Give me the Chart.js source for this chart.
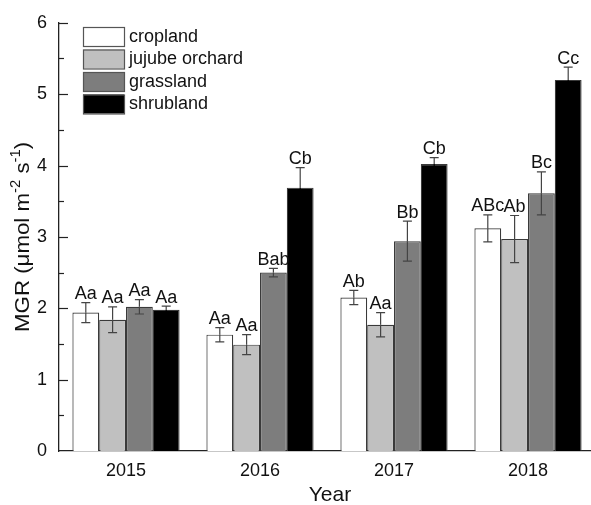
<!DOCTYPE html>
<html>
<head>
<meta charset="utf-8">
<script src="https://cdn.jsdelivr.net/npm/chart.js@4"></script>
<style>
  html, body { margin: 0; padding: 0; background: #fff; overflow: hidden; }
  #chart { display: block; }
</style>
</head>
<body>
<canvas id="chart" width="600" height="505"></canvas>
<script>
// MGR by land use type, 2015-2018 (mean, SE, significance letters)
const years = ['2015', '2016', '2017', '2018'];
const yTicks = [0, 1, 2, 3, 4, 5, 6];

const cropland    = [1.94, 1.63, 2.15, 3.12];
const croplandSE  = [0.14, 0.10, 0.10, 0.19];
const croplandSig = ['Aa', 'Aa', 'Ab', 'ABc'];

const jujube    = [1.84, 1.49, 1.77, 2.97];
const jujubeSE  = [0.18, 0.14, 0.17, 0.33];
const jujubeSig = ['Aa', 'Aa', 'Aa', 'Ab'];

const grassland    = [2.02, 2.50, 2.94, 3.61];
const grasslandSE  = [0.10, 0.06, 0.28, 0.30];
const grasslandSig = ['Aa', 'Bab', 'Bb', 'Bc'];

const shrubland    = [1.98, 3.69, 4.02, 5.20];
const shrublandSE  = [0.05, 0.28, 0.09, 0.18];
const shrublandSig = ['Aa', 'Cb', 'Cb', 'Cc'];

const FONT = 'Arial, "Liberation Sans", sans-serif';

function series(label, data, se, sig, fill) {
  return { label, data, se, sig, backgroundColor: fill, borderColor: '#3a3a3a', borderWidth: 1.2,
           categoryPercentage: 0.8, barPercentage: 1.0 };
}

// error bars, letters, inward ticks, axis titles and legend
const decorations = {
  id: 'decorations',
  afterDatasetsDraw(chart) {
    const ctx = chart.ctx;
    const y = chart.scales.y;
    ctx.save();
    chart.data.datasets.forEach((ds, di) => {
      chart.getDatasetMeta(di).data.forEach((bar, i) => {
        const top = y.getPixelForValue(ds.data[i] + ds.se[i]);
        const low = y.getPixelForValue(ds.data[i] - ds.se[i]);
        const mid = bar.y;
        ctx.lineWidth = 1.2;
        ctx.strokeStyle = '#444';
        ctx.beginPath();
        ctx.moveTo(bar.x, top); ctx.lineTo(bar.x, mid);
        ctx.moveTo(bar.x - 4.5, top); ctx.lineTo(bar.x + 4.5, top);
        ctx.stroke();
        // lower whisker sits inside the bar; on the black bars it disappears
        ctx.strokeStyle = ds.backgroundColor === '#000000' ? '#000000' : '#444';
        ctx.beginPath();
        ctx.moveTo(bar.x, mid); ctx.lineTo(bar.x, low);
        ctx.moveTo(bar.x - 4.5, low); ctx.lineTo(bar.x + 4.5, low);
        ctx.stroke();

        ctx.fillStyle = '#111';
        ctx.font = '18px ' + FONT;
        ctx.textAlign = 'center';
        ctx.textBaseline = 'alphabetic';
        ctx.fillText(ds.sig[i], bar.x, top - 3.5);
      });
    });
    ctx.restore();
  },
  afterDraw(chart) {
    const ctx = chart.ctx;
    const area = chart.chartArea;
    const y = chart.scales.y;
    ctx.save();
    // inward ticks on the y axis (major every 1, minor every 0.5)
    ctx.strokeStyle = '#222';
    ctx.lineWidth = 1.2;
    for (let v = 0.5; v <= 6; v += 0.5) {
      const py = Math.round(y.getPixelForValue(v)) + 0.5;
      const len = Number.isInteger(v) ? 9 : 5;
      ctx.beginPath();
      ctx.moveTo(area.left, py);
      ctx.lineTo(area.left + len, py);
      ctx.stroke();
    }

    // y axis title with superscripts
    ctx.fillStyle = '#111';
    ctx.textBaseline = 'alphabetic';
    ctx.textAlign = 'left';
    const big = '21px ' + FONT, small = '14px ' + FONT;
    const parts = [['MGR (\u03bcmol m', big, 0], ['-2', small, -9], [' s', big, 0], ['-1', small, -9], [')', big, 0]];
    let total = 0;
    parts.forEach(p => { ctx.font = p[1]; total += ctx.measureText(p[0]).width; });
    ctx.translate(29, (area.top + area.bottom) / 2);
    ctx.rotate(-Math.PI / 2);
    ctx.scale(1.06, 1);
    let x = -total / 2;
    parts.forEach(p => {
      ctx.font = p[1];
      ctx.fillText(p[0], x, p[2]);
      x += ctx.measureText(p[0]).width;
    });
    ctx.setTransform(1, 0, 0, 1, 0, 0);

    // x axis title
    ctx.font = '21px ' + FONT;
    ctx.textAlign = 'center';
    ctx.textBaseline = 'middle';
    ctx.fillText('Year', (area.left + area.right) / 2 + 3, 495);

    // legend
    let ly = 27;
    chart.data.datasets.forEach(ds => {
      ctx.fillStyle = ds.backgroundColor;
      ctx.fillRect(83, ly, 41, 19);
      ctx.strokeStyle = '#555';
      ctx.lineWidth = 1.2;
      ctx.strokeRect(83.5, ly + 0.5, 41, 19);
      ctx.fillStyle = '#111';
      ctx.font = '18px ' + FONT;
      ctx.textAlign = 'left';
      ctx.textBaseline = 'middle';
      ctx.fillText(ds.label, 129, ly + 10);
      ly += 22.5;
    });
    ctx.restore();
  }
};

new Chart(document.getElementById('chart'), {
  type: 'bar',
  data: {
    labels: years,
    datasets: [
      series('cropland', cropland, croplandSE, croplandSig, '#ffffff'),
      series('jujube orchard', jujube, jujubeSE, jujubeSig, '#c0c0c0'),
      series('grassland', grassland, grasslandSE, grasslandSig, '#7d7d7d'),
      series('shrubland', shrubland, shrublandSE, shrublandSig, '#000000')
    ]
  },
  options: {
    responsive: false,
    animation: false,
    layout: { padding: { top: 17, right: 5, left: 0, bottom: 0 } },
    plugins: { legend: { display: false }, tooltip: { enabled: false } },
    scales: {
      x: {
        grid: { display: false, drawTicks: false },
        border: { display: true, color: '#222', width: 1.3 },
        ticks: { color: '#111', font: { size: 18, family: FONT }, padding: 9 },
        afterFit: s => { s.height = 54; }
      },
      y: {
        min: 0, max: 6,
        afterBuildTicks: s => { s.ticks = yTicks.map(v => ({ value: v })); },
        grid: { display: false, drawTicks: false },
        border: { display: true, color: '#222', width: 1.3 },
        ticks: { color: '#111', font: { size: 18, family: FONT }, padding: 12 },
        afterFit: s => { s.width = 59; }
      }
    }
  },
  plugins: [decorations]
});
</script>
</body>
</html>
